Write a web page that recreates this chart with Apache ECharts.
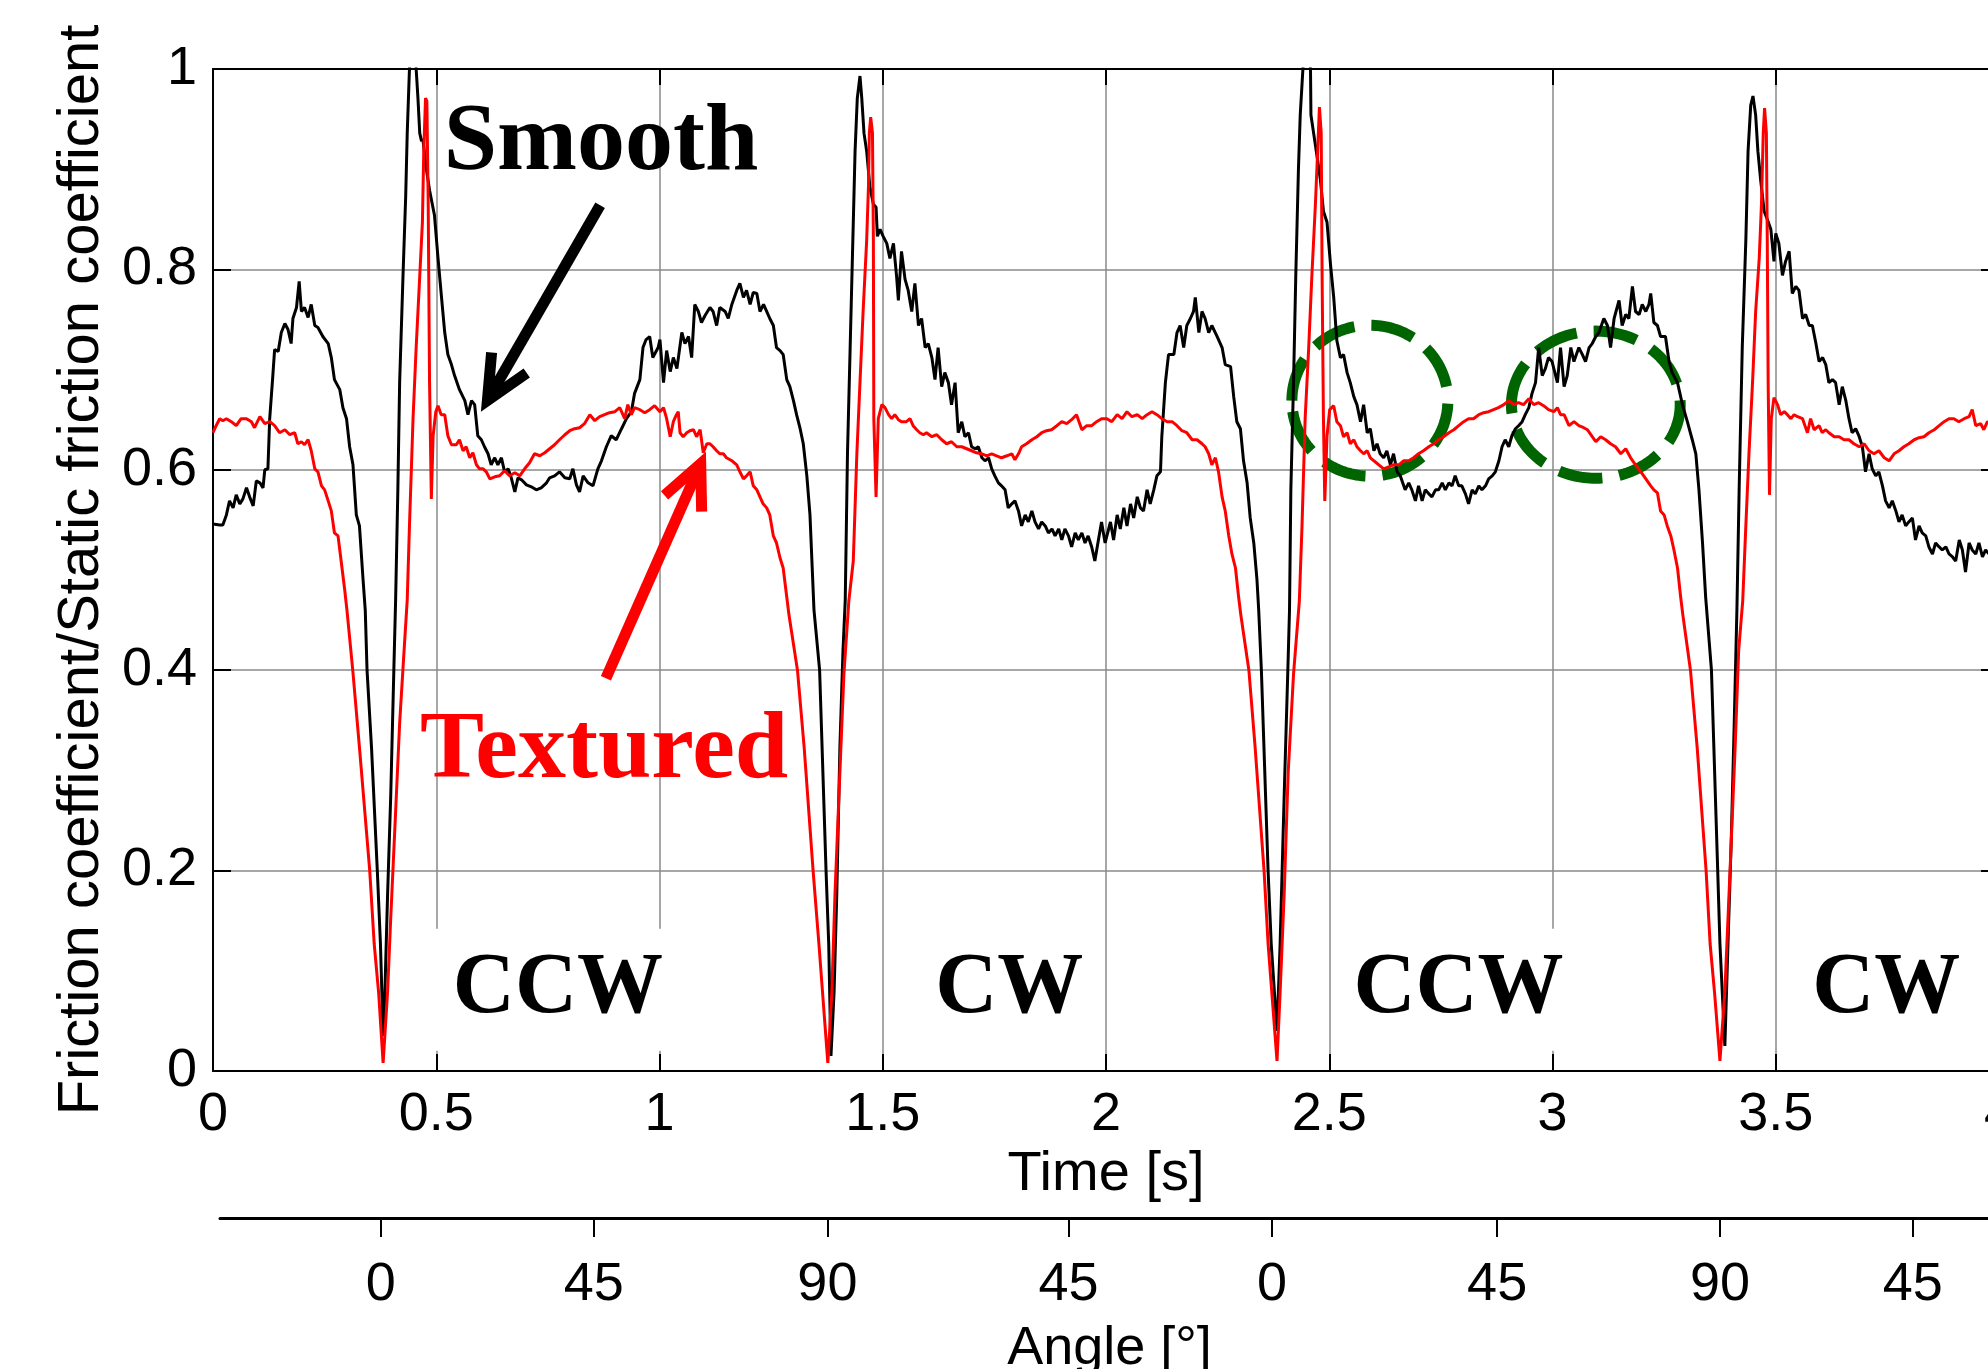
<!DOCTYPE html>
<html><head><meta charset="utf-8">
<script src="https://cdn.jsdelivr.net/npm/echarts@6/dist/echarts.min.js"></script>
<style>html,body{margin:0;padding:0;background:#fff;overflow:hidden}#c{width:1988px;height:1369px}</style>
</head><body><div id="c"></div>
<script>
// ---- data ----
const angleTickTimes = [0.376, 0.853, 1.376, 1.916, 2.372, 2.876, 3.375, 3.807];
const angleTickLabels = ['0', '45', '90', '45', '0', '45', '90', '45'];

const smooth = [
[0.000,0.546],[0.015,0.545],[0.022,0.545],[0.030,0.555],[0.037,0.569],[0.045,0.562],[0.052,0.575],[0.060,0.566],[0.067,0.571],[0.075,0.582],[0.082,0.573],[0.090,0.564],[0.097,0.589],[0.105,0.587],[0.112,0.582],[0.116,0.600],[0.123,0.601],[0.127,0.651],[0.134,0.694],[0.138,0.720],[0.146,0.718],[0.153,0.737],[0.161,0.746],[0.168,0.740],[0.175,0.726],[0.179,0.751],[0.187,0.762],[0.193,0.788],[0.198,0.758],[0.205,0.762],[0.213,0.752],[0.220,0.765],[0.228,0.744],[0.235,0.742],[0.246,0.733],[0.258,0.726],[0.265,0.712],[0.272,0.690],[0.284,0.680],[0.291,0.662],[0.299,0.651],[0.306,0.623],[0.3135,0.605],[0.321,0.555],[0.328,0.544],[0.336,0.491],[0.341,0.460],[0.345,0.400],[0.355,0.323],[0.368,0.200],[0.375,0.127],[0.381,0.035],[0.385,0.079],[0.391,0.176],[0.398,0.274],[0.405,0.400],[0.409,0.470],[0.414,0.580],[0.418,0.687],[0.4255,0.793],[0.4315,0.872],[0.435,0.936],[0.440,1.000],[0.445,1.030],[0.452,1.020],[0.455,1.000],[0.459,0.971],[0.463,0.936],[0.467,0.928],[0.470,0.930],[0.478,0.900],[0.485,0.879],[0.496,0.854],[0.504,0.811],[0.511,0.776],[0.519,0.737],[0.526,0.715],[0.534,0.705],[0.541,0.694],[0.552,0.680],[0.564,0.669],[0.571,0.655],[0.579,0.669],[0.586,0.665],[0.593,0.634],[0.601,0.630],[0.608,0.623],[0.616,0.616],[0.623,0.605],[0.631,0.612],[0.638,0.605],[0.646,0.612],[0.653,0.598],[0.661,0.601],[0.668,0.592],[0.676,0.578],[0.683,0.592],[0.691,0.590],[0.702,0.585],[0.713,0.583],[0.724,0.580],[0.735,0.582],[0.747,0.587],[0.754,0.592],[0.765,0.594],[0.776,0.598],[0.788,0.592],[0.799,0.591],[0.806,0.601],[0.814,0.585],[0.821,0.578],[0.829,0.594],[0.840,0.587],[0.851,0.584],[0.862,0.601],[0.870,0.609],[0.881,0.623],[0.892,0.634],[0.903,0.630],[0.915,0.641],[0.926,0.651],[0.937,0.658],[0.944,0.676],[0.956,0.690],[0.963,0.722],[0.970,0.730],[0.978,0.733],[0.985,0.712],[0.997,0.722],
[1.001,0.730],[1.009,0.687],[1.016,0.719],[1.024,0.698],[1.031,0.712],[1.039,0.701],[1.050,0.737],[1.057,0.726],[1.065,0.733],[1.072,0.712],[1.079,0.765],[1.087,0.758],[1.094,0.747],[1.102,0.754],[1.113,0.762],[1.120,0.758],[1.128,0.744],[1.135,0.762],[1.147,0.758],[1.154,0.751],[1.162,0.765],[1.173,0.779],[1.180,0.786],[1.188,0.772],[1.195,0.779],[1.203,0.765],[1.210,0.777],[1.218,0.776],[1.225,0.758],[1.233,0.765],[1.240,0.758],[1.247,0.751],[1.255,0.744],[1.262,0.722],[1.270,0.719],[1.277,0.715],[1.285,0.690],[1.292,0.683],[1.300,0.669],[1.307,0.655],[1.315,0.641],[1.322,0.626],[1.330,0.594],[1.337,0.555],[1.346,0.460],[1.3586,0.400],[1.373,0.200],[1.379,0.127],[1.384,0.015],[1.391,0.079],[1.397,0.176],[1.404,0.323],[1.411,0.420],[1.416,0.470],[1.421,0.616],[1.427,0.722],[1.433,0.829],[1.438,0.918],[1.443,0.971],[1.449,0.993],[1.453,0.971],[1.458,0.936],[1.464,0.918],[1.471,0.883],[1.479,0.865],[1.485,0.862],[1.488,0.833],[1.494,0.840],[1.501,0.833],[1.509,0.826],[1.516,0.811],[1.524,0.826],[1.531,0.793],[1.535,0.769],[1.542,0.818],[1.550,0.790],[1.557,0.779],[1.565,0.758],[1.572,0.786],[1.580,0.744],[1.587,0.751],[1.595,0.722],[1.602,0.726],[1.610,0.712],[1.617,0.690],[1.624,0.722],[1.632,0.683],[1.639,0.697],[1.647,0.687],[1.654,0.665],[1.662,0.687],[1.669,0.637],[1.677,0.648],[1.684,0.633],[1.692,0.637],[1.699,0.623],[1.707,0.621],[1.714,0.623],[1.722,0.612],[1.729,0.609],[1.737,0.612],[1.744,0.601],[1.751,0.594],[1.759,0.587],[1.766,0.584],[1.774,0.580],[1.781,0.562],[1.789,0.566],[1.796,0.569],[1.804,0.559],[1.811,0.544],[1.819,0.555],[1.826,0.548],[1.834,0.559],[1.841,0.548],[1.849,0.541],[1.856,0.548],[1.864,0.544],[1.871,0.537],[1.879,0.541],[1.886,0.534],[1.894,0.541],[1.901,0.530],[1.908,0.541],[1.916,0.534],[1.923,0.523],[1.931,0.537],[1.938,0.530],[1.946,0.537],[1.953,0.527],[1.960,0.534],[1.968,0.523],[1.975,0.509],[1.983,0.530],[1.990,0.548],[1.998,0.527],
[2.010,0.548],[2.017,0.530],[2.025,0.555],[2.032,0.541],[2.040,0.562],[2.047,0.544],[2.055,0.566],[2.062,0.552],[2.070,0.573],[2.077,0.562],[2.084,0.559],[2.092,0.580],[2.099,0.566],[2.107,0.580],[2.114,0.594],[2.122,0.598],[2.125,0.633],[2.133,0.687],[2.140,0.715],[2.152,0.715],[2.159,0.737],[2.166,0.744],[2.174,0.722],[2.181,0.744],[2.189,0.751],[2.196,0.758],[2.200,0.772],[2.208,0.737],[2.215,0.758],[2.222,0.751],[2.230,0.737],[2.237,0.744],[2.249,0.733],[2.260,0.722],[2.267,0.705],[2.279,0.703],[2.286,0.673],[2.293,0.648],[2.301,0.641],[2.308,0.609],[2.316,0.587],[2.323,0.552],[2.331,0.527],[2.338,0.491],[2.342,0.460],[2.348,0.400],[2.363,0.200],[2.370,0.127],[2.383,0.040],[2.390,0.127],[2.399,0.274],[2.407,0.396],[2.411,0.460],[2.414,0.580],[2.420,0.687],[2.425,0.793],[2.431,0.900],[2.435,0.954],[2.441,1.000],[2.447,1.030],[2.454,1.020],[2.458,1.000],[2.459,0.954],[2.465,0.936],[2.471,0.918],[2.480,0.890],[2.487,0.858],[2.495,0.847],[2.503,0.804],[2.510,0.772],[2.517,0.729],[2.525,0.712],[2.532,0.715],[2.540,0.697],[2.547,0.687],[2.555,0.673],[2.562,0.665],[2.570,0.648],[2.577,0.665],[2.585,0.637],[2.592,0.641],[2.600,0.619],[2.607,0.626],[2.614,0.616],[2.622,0.612],[2.629,0.619],[2.637,0.605],[2.644,0.616],[2.652,0.598],[2.659,0.594],[2.670,0.580],[2.678,0.587],[2.685,0.580],[2.693,0.569],[2.700,0.584],[2.708,0.569],[2.715,0.580],[2.723,0.576],[2.730,0.573],[2.738,0.580],[2.745,0.580],[2.753,0.587],[2.760,0.580],[2.768,0.587],[2.775,0.584],[2.782,0.594],[2.790,0.584],[2.797,0.584],[2.805,0.576],[2.812,0.566],[2.820,0.580],[2.827,0.576],[2.835,0.584],[2.842,0.580],[2.850,0.584],[2.857,0.591],[2.865,0.594],[2.872,0.598],[2.880,0.609],[2.887,0.623],[2.894,0.630],[2.902,0.623],[2.909,0.634],[2.917,0.641],[2.924,0.644],[2.932,0.648],[2.939,0.655],[2.947,0.662],[2.954,0.676],[2.962,0.687],[2.969,0.722],[2.977,0.694],[2.984,0.701],[2.991,0.712],[2.999,0.708],
[3.011,0.687],[3.018,0.722],[3.026,0.683],[3.033,0.694],[3.041,0.722],[3.048,0.708],[3.059,0.722],[3.067,0.715],[3.074,0.708],[3.082,0.722],[3.089,0.726],[3.097,0.733],[3.104,0.737],[3.115,0.751],[3.123,0.744],[3.130,0.722],[3.138,0.751],[3.149,0.769],[3.156,0.744],[3.164,0.755],[3.171,0.751],[3.179,0.783],[3.186,0.758],[3.194,0.755],[3.201,0.765],[3.209,0.758],[3.216,0.765],[3.220,0.776],[3.227,0.747],[3.235,0.744],[3.242,0.733],[3.253,0.733],[3.261,0.708],[3.268,0.697],[3.280,0.687],[3.291,0.665],[3.302,0.648],[3.313,0.630],[3.321,0.616],[3.328,0.580],[3.336,0.527],[3.343,0.473],[3.356,0.400],[3.370,0.200],[3.375,0.127],[3.386,0.025],[3.393,0.127],[3.400,0.225],[3.407,0.347],[3.413,0.460],[3.418,0.580],[3.425,0.722],[3.433,0.829],[3.438,0.918],[3.444,0.964],[3.449,0.973],[3.455,0.954],[3.460,0.918],[3.466,0.890],[3.474,0.858],[3.481,0.850],[3.489,0.840],[3.496,0.808],[3.500,0.836],[3.507,0.826],[3.515,0.794],[3.522,0.808],[3.530,0.818],[3.537,0.776],[3.545,0.783],[3.552,0.779],[3.560,0.751],[3.567,0.755],[3.575,0.744],[3.582,0.744],[3.590,0.726],[3.597,0.708],[3.605,0.712],[3.612,0.705],[3.619,0.687],[3.627,0.690],[3.634,0.687],[3.642,0.665],[3.649,0.683],[3.657,0.669],[3.664,0.651],[3.671,0.637],[3.679,0.641],[3.687,0.633],[3.694,0.623],[3.701,0.598],[3.709,0.616],[3.716,0.601],[3.724,0.594],[3.731,0.598],[3.739,0.584],[3.746,0.569],[3.754,0.562],[3.761,0.569],[3.769,0.559],[3.776,0.548],[3.783,0.555],[3.791,0.544],[3.798,0.548],[3.806,0.552],[3.813,0.530],[3.821,0.544],[3.828,0.537],[3.836,0.534],[3.843,0.523],[3.851,0.516],[3.858,0.527],[3.866,0.523],[3.873,0.520],[3.881,0.523],[3.888,0.516],[3.896,0.513],[3.903,0.509],[3.911,0.530],[3.918,0.520],[3.925,0.498],[3.933,0.527],[3.940,0.520],[3.948,0.516],[3.955,0.527],[3.963,0.513],[3.970,0.520],[3.978,0.516],[3.989,0.522],[4.000,0.518]
];

const textured = [
[0.000,0.637],[0.007,0.644],[0.015,0.651],[0.022,0.649],[0.030,0.651],[0.041,0.648],[0.052,0.644],[0.063,0.651],[0.075,0.651],[0.086,0.648],[0.093,0.642],[0.105,0.653],[0.116,0.646],[0.127,0.648],[0.138,0.644],[0.149,0.637],[0.161,0.640],[0.172,0.635],[0.183,0.637],[0.190,0.626],[0.198,0.628],[0.205,0.625],[0.213,0.630],[0.220,0.619],[0.228,0.601],[0.235,0.598],[0.243,0.584],[0.250,0.580],[0.258,0.569],[0.265,0.559],[0.272,0.537],[0.280,0.534],[0.287,0.509],[0.295,0.480],[0.300,0.460],[0.313,0.400],[0.328,0.323],[0.351,0.200],[0.361,0.127],[0.371,0.078],[0.381,0.008],[0.391,0.079],[0.398,0.152],[0.408,0.249],[0.418,0.347],[0.428,0.420],[0.435,0.470],[0.440,0.544],[0.448,0.651],[0.455,0.722],[0.463,0.793],[0.469,0.847],[0.472,0.918],[0.476,0.971],[0.479,0.968],[0.482,0.865],[0.485,0.687],[0.489,0.571],[0.493,0.634],[0.499,0.658],[0.504,0.664],[0.511,0.655],[0.519,0.655],[0.526,0.634],[0.534,0.625],[0.545,0.625],[0.552,0.630],[0.560,0.619],[0.567,0.623],[0.575,0.612],[0.582,0.617],[0.590,0.605],[0.597,0.601],[0.605,0.601],[0.612,0.598],[0.620,0.591],[0.631,0.593],[0.642,0.594],[0.653,0.599],[0.664,0.594],[0.676,0.597],[0.687,0.594],[0.698,0.601],[0.709,0.607],[0.720,0.616],[0.732,0.614],[0.743,0.617],[0.754,0.621],[0.765,0.625],[0.776,0.630],[0.788,0.635],[0.799,0.639],[0.810,0.641],[0.821,0.642],[0.832,0.646],[0.844,0.655],[0.855,0.649],[0.866,0.653],[0.877,0.655],[0.888,0.657],[0.900,0.658],[0.911,0.662],[0.922,0.651],[0.929,0.665],[0.937,0.655],[0.944,0.662],[0.956,0.660],[0.967,0.657],[0.978,0.660],[0.989,0.664],
[1.001,0.658],[1.009,0.662],[1.016,0.651],[1.024,0.633],[1.031,0.648],[1.038,0.655],[1.042,0.658],[1.046,0.637],[1.053,0.633],[1.061,0.637],[1.068,0.639],[1.076,0.640],[1.083,0.633],[1.091,0.640],[1.094,0.640],[1.098,0.617],[1.106,0.626],[1.113,0.626],[1.120,0.623],[1.128,0.619],[1.135,0.616],[1.143,0.616],[1.150,0.612],[1.162,0.609],[1.173,0.605],[1.180,0.598],[1.188,0.591],[1.195,0.594],[1.203,0.598],[1.210,0.584],[1.218,0.580],[1.225,0.573],[1.232,0.566],[1.240,0.562],[1.247,0.555],[1.255,0.534],[1.262,0.527],[1.270,0.512],[1.277,0.502],[1.285,0.473],[1.290,0.455],[1.309,0.400],[1.324,0.323],[1.344,0.200],[1.357,0.127],[1.377,0.008],[1.386,0.079],[1.393,0.176],[1.404,0.298],[1.413,0.396],[1.424,0.469],[1.434,0.509],[1.442,0.616],[1.449,0.687],[1.456,0.758],[1.464,0.829],[1.468,0.883],[1.470,0.936],[1.473,0.952],[1.477,0.936],[1.479,0.829],[1.480,0.651],[1.485,0.573],[1.490,0.651],[1.498,0.665],[1.505,0.662],[1.513,0.655],[1.520,0.651],[1.527,0.655],[1.535,0.650],[1.542,0.648],[1.553,0.648],[1.561,0.651],[1.568,0.644],[1.576,0.640],[1.583,0.637],[1.591,0.635],[1.598,0.637],[1.610,0.633],[1.621,0.635],[1.632,0.630],[1.643,0.626],[1.654,0.628],[1.666,0.623],[1.677,0.623],[1.688,0.621],[1.699,0.619],[1.710,0.617],[1.722,0.616],[1.733,0.614],[1.744,0.616],[1.755,0.614],[1.766,0.612],[1.778,0.614],[1.789,0.616],[1.796,0.610],[1.804,0.616],[1.811,0.623],[1.822,0.626],[1.834,0.630],[1.845,0.633],[1.856,0.637],[1.867,0.639],[1.878,0.640],[1.890,0.644],[1.901,0.648],[1.912,0.646],[1.923,0.650],[1.934,0.655],[1.946,0.640],[1.957,0.644],[1.968,0.644],[1.979,0.648],[1.990,0.651],
[2.002,0.651],[2.013,0.648],[2.025,0.655],[2.036,0.651],[2.047,0.658],[2.058,0.653],[2.070,0.655],[2.081,0.651],[2.092,0.655],[2.103,0.658],[2.114,0.655],[2.125,0.651],[2.137,0.648],[2.148,0.648],[2.159,0.644],[2.170,0.639],[2.181,0.637],[2.193,0.630],[2.204,0.630],[2.215,0.626],[2.222,0.623],[2.230,0.616],[2.237,0.605],[2.245,0.612],[2.252,0.598],[2.260,0.573],[2.267,0.559],[2.275,0.534],[2.282,0.516],[2.290,0.502],[2.297,0.473],[2.302,0.455],[2.320,0.400],[2.334,0.323],[2.354,0.200],[2.363,0.127],[2.383,0.010],[2.390,0.079],[2.399,0.176],[2.408,0.298],[2.420,0.396],[2.433,0.469],[2.439,0.544],[2.446,0.651],[2.454,0.722],[2.461,0.793],[2.469,0.865],[2.474,0.918],[2.478,0.962],[2.482,0.936],[2.484,0.793],[2.487,0.651],[2.490,0.569],[2.495,0.634],[2.501,0.660],[2.510,0.664],[2.517,0.648],[2.525,0.644],[2.532,0.633],[2.540,0.637],[2.547,0.626],[2.555,0.630],[2.562,0.623],[2.570,0.619],[2.577,0.616],[2.585,0.619],[2.592,0.612],[2.600,0.609],[2.611,0.605],[2.622,0.601],[2.633,0.603],[2.644,0.605],[2.656,0.605],[2.667,0.609],[2.678,0.609],[2.689,0.612],[2.700,0.616],[2.711,0.619],[2.723,0.623],[2.734,0.626],[2.745,0.630],[2.756,0.633],[2.768,0.637],[2.779,0.640],[2.790,0.644],[2.801,0.648],[2.812,0.651],[2.823,0.651],[2.835,0.655],[2.846,0.657],[2.857,0.658],[2.868,0.660],[2.879,0.662],[2.891,0.665],[2.902,0.669],[2.913,0.665],[2.924,0.667],[2.935,0.665],[2.947,0.671],[2.958,0.665],[2.969,0.667],[2.980,0.664],[2.991,0.660],
[3.003,0.658],[3.011,0.662],[3.018,0.655],[3.026,0.655],[3.037,0.644],[3.048,0.648],[3.059,0.644],[3.070,0.642],[3.078,0.640],[3.089,0.633],[3.097,0.628],[3.108,0.633],[3.119,0.630],[3.130,0.626],[3.141,0.623],[3.153,0.616],[3.164,0.621],[3.175,0.612],[3.186,0.605],[3.198,0.598],[3.209,0.591],[3.220,0.584],[3.227,0.580],[3.235,0.577],[3.242,0.559],[3.250,0.555],[3.257,0.544],[3.265,0.534],[3.272,0.520],[3.280,0.502],[3.287,0.473],[3.292,0.455],[3.309,0.400],[3.324,0.323],[3.344,0.200],[3.353,0.127],[3.363,0.078],[3.375,0.010],[3.386,0.079],[3.393,0.152],[3.400,0.225],[3.409,0.323],[3.417,0.420],[3.426,0.469],[3.433,0.544],[3.440,0.616],[3.448,0.687],[3.455,0.758],[3.463,0.811],[3.468,0.865],[3.472,0.936],[3.475,0.961],[3.479,0.936],[3.481,0.829],[3.483,0.687],[3.486,0.575],[3.490,0.651],[3.496,0.672],[3.504,0.665],[3.511,0.655],[3.519,0.658],[3.526,0.655],[3.534,0.651],[3.541,0.655],[3.549,0.653],[3.560,0.651],[3.571,0.637],[3.578,0.651],[3.586,0.640],[3.597,0.644],[3.604,0.637],[3.612,0.640],[3.619,0.637],[3.631,0.633],[3.642,0.633],[3.653,0.630],[3.664,0.630],[3.675,0.626],[3.687,0.623],[3.698,0.626],[3.709,0.619],[3.720,0.616],[3.731,0.619],[3.743,0.612],[3.754,0.609],[3.765,0.616],[3.776,0.619],[3.787,0.623],[3.798,0.626],[3.810,0.630],[3.821,0.632],[3.832,0.633],[3.843,0.637],[3.855,0.640],[3.866,0.644],[3.877,0.648],[3.888,0.651],[3.899,0.651],[3.910,0.648],[3.922,0.651],[3.933,0.653],[3.940,0.660],[3.948,0.644],[3.959,0.646],[3.966,0.640],[3.974,0.648],[3.987,0.645],[4.000,0.647]
];

// annotations, anchored in data coordinates [time, value]
const curveLabels = [['Smooth', 0.869, 0.925], ['Textured', 0.876, 0.318]];
const directionLabels = [['CCW', 0.759, 0.081], ['CW', 1.770, 0.081], ['CCW', 2.776, 0.081], ['CW', 3.734, 0.081]];
const arrows = [[0.867, 0.864, 0.600, 0.658], [0.880, 0.392, 1.104, 0.618]]; // tail t,v -> head t,v
const ellipses = [[2.591, 0.669, 0.1747, 0.0753], [3.097, 0.665, 0.189, 0.0734]]; // centre t,v, radius t,v

// ---- styles ----
const curveLabelColors = ['#000000', '#ff0000'];
const arrowColors = ['#000000', '#ff0000'];
const SANS = '"Liberation Sans", Arial, sans-serif';
const SERIF = '"Liberation Serif", "Times New Roman", serif';

const chart = echarts.init(document.getElementById('c'), null, {renderer: 'canvas'});

const tickFont = {fontFamily: SANS, fontSize: 54, color: '#000'};
const ANGLE_AXIS_START = 0.0157; // the angle axis line starts a few px right of the time origin

const option = {
  animation: false,
  backgroundColor: '#ffffff',
  grid: [
    {left: 213, top: 69, width: 1786, height: 1002, containLabel: false, outerBoundsMode: 'none'},
    {left: 220, top: 69, width: 1779, height: 1002, containLabel: false, outerBoundsMode: 'none'}
  ],
  xAxis: [
    {
      type: 'value', gridIndex: 0, min: 0, max: 4, interval: 0.5, position: 'bottom',
      name: 'Time [s]', nameLocation: 'middle', nameGap: 59,
      nameTextStyle: {fontFamily: SANS, fontSize: 56, color: '#000'},
      axisLine: {show: true, onZero: false, lineStyle: {color: '#000', width: 2}},
      axisTick: {show: true, inside: true, length: 17, lineStyle: {color: '#000', width: 2}},
      axisLabel: Object.assign({margin: 17, showMinLabel: true, showMaxLabel: true}, tickFont),
      splitLine: {show: true, lineStyle: {color: '#8a8a8a', width: 1.5}}
    },
    {
      type: 'value', gridIndex: 0, min: 0, max: 4, interval: 0.5, position: 'top',
      axisLine: {show: true, onZero: false, lineStyle: {color: '#000', width: 2}},
      axisTick: {show: true, inside: true, length: 16, lineStyle: {color: '#000', width: 2}},
      axisLabel: {show: false}, splitLine: {show: false}
    },
    {
      type: 'value', gridIndex: 1, min: ANGLE_AXIS_START, max: 4, position: 'bottom', offset: 147,
      name: 'Angle [°]', nameLocation: 'middle', nameGap: 104,
      nameTextStyle: {fontFamily: SANS, fontSize: 54, color: '#000'},
      axisLine: {show: true, onZero: false, lineStyle: {color: '#000', width: 3}},
      axisTick: {show: true, inside: false, length: 19, customValues: angleTickTimes, lineStyle: {color: '#000', width: 2}},
      axisLabel: Object.assign({
        margin: 40, customValues: angleTickTimes,
        formatter: function (v) {
          let best = 0;
          angleTickTimes.forEach(function (t, i) { if (Math.abs(t - v) < Math.abs(angleTickTimes[best] - v)) best = i; });
          return angleTickLabels[best];
        }
      }, tickFont),
      splitLine: {show: false}
    }
  ],
  yAxis: [
    {
      type: 'value', gridIndex: 0, min: 0, max: 1, interval: 0.2, position: 'left',
      name: 'Friction coefficient/Static friction coefficient', nameLocation: 'middle', nameGap: 100, nameRotate: 90,
      nameTextStyle: {fontFamily: SANS, fontSize: 58, color: '#000'},
      axisLine: {show: true, onZero: false, lineStyle: {color: '#000', width: 2}},
      axisTick: {show: true, inside: true, length: 18, lineStyle: {color: '#000', width: 2}},
      axisLabel: Object.assign({margin: 16, showMinLabel: true, showMaxLabel: true}, tickFont),
      splitLine: {show: true, lineStyle: {color: '#8a8a8a', width: 1.5}}
    },
    {
      type: 'value', gridIndex: 0, min: 0, max: 1, interval: 0.2, position: 'right',
      axisLine: {show: true, onZero: false, lineStyle: {color: '#000', width: 2}},
      axisTick: {show: true, inside: true, length: 18, lineStyle: {color: '#000', width: 2}},
      axisLabel: {show: false}, splitLine: {show: false}
    },
    {
      type: 'value', gridIndex: 1, min: 0, max: 1, show: false
    }
  ],
  series: [
    {
      name: 'ellipses', type: 'custom', xAxisIndex: 0, yAxisIndex: 0, z: 1, clip: false,
      data: ellipses,
      renderItem: function (params, api) {
        const c = api.coord([api.value(0), api.value(1)]);
        const e = api.coord([api.value(0) + api.value(2), api.value(1) + api.value(3)]);
        const rx = Math.abs(e[0] - c[0]), ry = Math.abs(e[1] - c[1]);
        const pts = [];
        for (let k = 0; k < 180; k++) {
          const a = Math.PI - k / 180 * 2 * Math.PI;
          pts.push([c[0] + rx * Math.cos(a), c[1] - ry * Math.sin(a)]);
        }
        return {type: 'polygon', shape: {points: pts},
          style: {fill: 'none', stroke: '#006400', lineWidth: 11, lineDash: [44, 17]}};
      }
    },
    {
      name: 'Smooth', type: 'line', data: smooth, xAxisIndex: 0, yAxisIndex: 0,
      showSymbol: false, symbol: 'none', z: 3,
      lineStyle: {color: '#000000', width: 3}
    },
    {
      name: 'Textured', type: 'line', data: textured, xAxisIndex: 0, yAxisIndex: 0,
      showSymbol: false, symbol: 'none', z: 4,
      lineStyle: {color: '#ff0000', width: 3}
    },
    {
      name: 'arrows', type: 'custom', xAxisIndex: 0, yAxisIndex: 0, z: 6, clip: false,
      data: arrows,
      renderItem: function (params, api) {
        const p0 = api.coord([api.value(0), api.value(1)]);
        const p1 = api.coord([api.value(2), api.value(3)]);
        const color = arrowColors[params.dataIndex];
        const lw = 11, L = 48, half = 25 * Math.PI / 180;
        const ang = Math.atan2(p0[1] - p1[1], p0[0] - p1[0]);
        const back = (lw / 2) / Math.sin(half);
        const v = [p1[0] + back * Math.cos(ang), p1[1] + back * Math.sin(ang)];
        const h1 = [v[0] + L * Math.cos(ang + half), v[1] + L * Math.sin(ang + half)];
        const h2 = [v[0] + L * Math.cos(ang - half), v[1] + L * Math.sin(ang - half)];
        return {type: 'group', children: [
          {type: 'line', shape: {x1: p0[0], y1: p0[1], x2: v[0], y2: v[1]}, style: {stroke: color, lineWidth: lw}},
          {type: 'polyline', shape: {points: [h1, v, h2]}, style: {stroke: color, fill: 'none', lineWidth: lw, lineJoin: 'miter', miterLimit: 10}}
        ]};
      }
    },
    {
      name: 'curveLabels', type: 'custom', xAxisIndex: 0, yAxisIndex: 0, z: 7, clip: false,
      data: curveLabels.map(function (d) { return [d[1], d[2]]; }),
      renderItem: function (params, api) {
        const p = api.coord([api.value(0), api.value(1)]);
        return {type: 'text', x: p[0], y: p[1], style: {
          text: curveLabels[params.dataIndex][0], fill: curveLabelColors[params.dataIndex],
          font: 'bold 96px ' + SERIF, align: 'center', verticalAlign: 'middle'}};
      }
    },
    {
      name: 'directionLabels', type: 'custom', xAxisIndex: 0, yAxisIndex: 0, z: 7, clip: false,
      data: directionLabels.map(function (d) { return [d[1], d[2]]; }),
      renderItem: function (params, api) {
        const p = api.coord([api.value(0), api.value(1)]);
        return {type: 'text', x: p[0], y: p[1], style: {
          text: directionLabels[params.dataIndex][0], fill: '#000',
          font: 'bold 86px ' + SERIF, align: 'center', verticalAlign: 'middle',
          backgroundColor: '#ffffff', padding: [26, 8, 10, 20]}};
      }
    }
  ]
};
chart.setOption(option);
</script>
</body></html>
